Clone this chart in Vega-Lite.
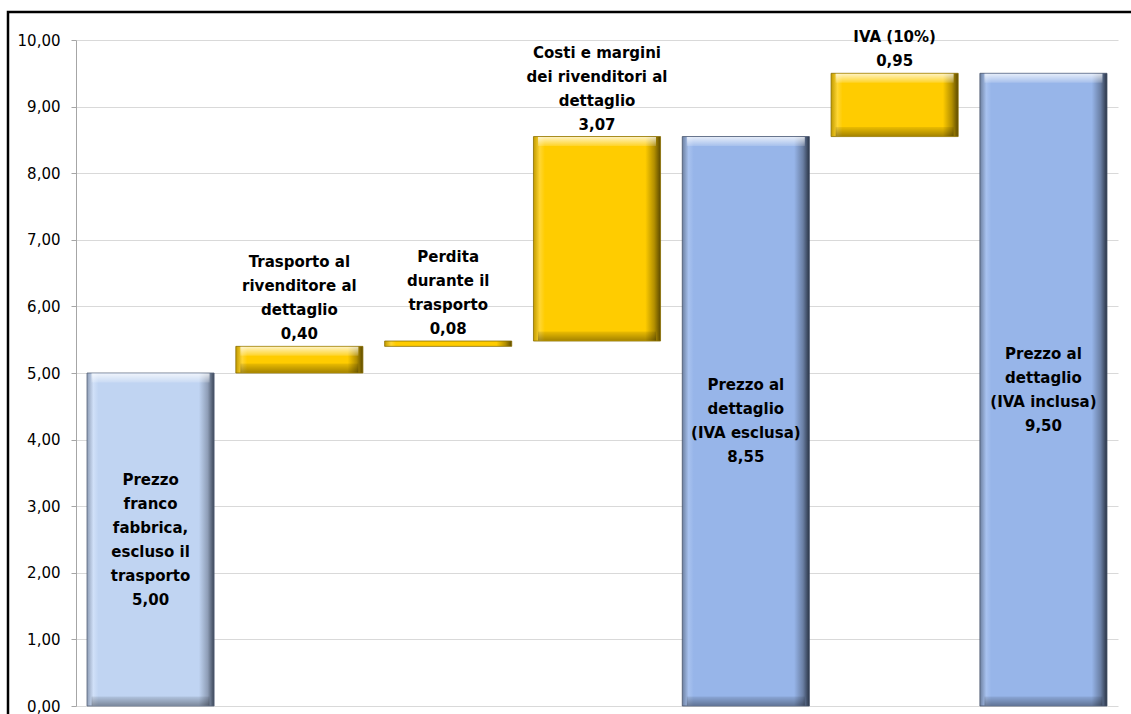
{
  "$schema": "https://vega.github.io/schema/vega-lite/v6.json",
  "width": 1140,
  "height": 712,
  "autosize": "none",
  "padding": {"left": 8, "top": 12, "right": 0, "bottom": 0},
  "background": "#ffffff",
  "config": {
    "view": {"stroke": "#000000", "strokeWidth": 2.5},
    "locale": {"number": {"decimal": ",", "thousands": ".", "grouping": [3], "currency": ["€", ""]}}
  },
  "data": {
    "values": [
      {"step": 1, "name": "Prezzo\nfranco\nfabbrica,\nescluso il\ntrasporto", "start": 0, "end": 5.00, "value": 5.00, "type": "first"},
      {"step": 2, "name": "Trasporto al\nrivenditore al\ndettaglio", "start": 5.00, "end": 5.40, "value": 0.40, "type": "delta"},
      {"step": 3, "name": "Perdita\ndurante il\ntrasporto", "start": 5.40, "end": 5.48, "value": 0.08, "type": "delta"},
      {"step": 4, "name": "Costi e margini\ndei rivenditori al\ndettaglio", "start": 5.48, "end": 8.55, "value": 3.07, "type": "delta"},
      {"step": 5, "name": "Prezzo al\ndettaglio\n(IVA esclusa)", "start": 0, "end": 8.55, "value": 8.55, "type": "total"},
      {"step": 6, "name": "IVA (10%)", "start": 8.55, "end": 9.50, "value": 0.95, "type": "delta"},
      {"step": 7, "name": "Prezzo al\ndettaglio\n(IVA inclusa)", "start": 0, "end": 9.50, "value": 9.50, "type": "total"}
    ]
  },
  "transform": [
    {"calculate": "split(datum.name + '\\n' + replace(format(datum.value, '.2f'), '.', ','), '\\n')", "as": "label"},
    {"calculate": "datum.type == 'delta' ? datum.end + (12 + (length(datum.label) - 1) * 24) / 66.6 : (datum.start + datum.end) / 2 + (length(datum.label) - 1) * 12 / 66.6", "as": "labelY"}
  ],
  "encoding": {
    "x": {
      "field": "step", "type": "ordinal", "sort": "ascending", "axis": null,
      "scale": {"range": [68, 1110], "paddingInner": 0.146, "paddingOuter": 0.074}
    }
  },
  "layer": [
    {
      "transform": [{"filter": "datum.type == 'first'"}],
      "mark": {
        "type": "bar", "stroke": "#55627a", "strokeWidth": 0.8,
        "color": {"gradient": "linear", "x1": 0, "x2": 1, "y1": 0, "y2": 0,
          "stops": [
            {"offset": 0, "color": "#8d9cb5"},
            {"offset": 0.05, "color": "#d0e0f8"},
            {"offset": 0.09, "color": "#c0d4f2"},
            {"offset": 0.88, "color": "#c0d4f2"},
            {"offset": 0.95, "color": "#8e9db6"},
            {"offset": 1, "color": "#3b4658"}
          ]}
      },
      "encoding": {
        "y": {"field": "start", "type": "quantitative",
          "scale": {"domain": [0, 10], "range": [694, 28], "nice": false, "zero": false},
          "axis": {
            "offset": -68, "values": [0, 1, 2, 3, 4, 5, 6, 7, 8, 9, 10], "format": ".2f", "title": null,
            "grid": true, "gridColor": "#d9d9d9", "gridWidth": 1,
            "domainColor": "#a6a6a6", "tickColor": "#a6a6a6", "tickSize": 5,
            "labelFont": "DejaVu Sans", "labelFontSize": 15, "labelColor": "#000000", "labelPadding": 11
          }},
        "y2": {"field": "end"}
      }
    },
    {
      "transform": [{"filter": "datum.type == 'total'"}],
      "mark": {
        "type": "bar", "stroke": "#46536b", "strokeWidth": 0.8,
        "color": {"gradient": "linear", "x1": 0, "x2": 1, "y1": 0, "y2": 0,
          "stops": [
            {"offset": 0, "color": "#6d80a0"},
            {"offset": 0.05, "color": "#a8c2ef"},
            {"offset": 0.09, "color": "#97b5e9"},
            {"offset": 0.88, "color": "#97b5e9"},
            {"offset": 0.95, "color": "#6a7fa4"},
            {"offset": 1, "color": "#2a3445"}
          ]}
      },
      "encoding": {
        "y": {"field": "start", "type": "quantitative"},
        "y2": {"field": "end"}
      }
    },
    {
      "transform": [{"filter": "datum.type == 'delta'"}],
      "mark": {
        "type": "bar", "stroke": "#8a6e00", "strokeWidth": 0.8,
        "color": {"gradient": "linear", "x1": 0, "x2": 1, "y1": 0, "y2": 0,
          "stops": [
            {"offset": 0, "color": "#c29b00"},
            {"offset": 0.05, "color": "#ffd633"},
            {"offset": 0.09, "color": "#ffcc00"},
            {"offset": 0.88, "color": "#ffcc00"},
            {"offset": 0.95, "color": "#b38f00"},
            {"offset": 1, "color": "#5c4a00"}
          ]}
      },
      "encoding": {
        "y": {"field": "start", "type": "quantitative"},
        "y2": {"field": "end"}
      }
    },
    {
      "transform": [{"filter": "datum.value >= 0.3"}],
      "mark": {
        "type": "tick", "size": 118, "thickness": 9, "yOffset": 5, "opacity": 1,
        "color": {"gradient": "linear", "x1": 0, "x2": 0, "y1": 0, "y2": 1,
          "stops": [
            {"offset": 0, "color": "rgba(255,255,255,0.75)"},
            {"offset": 1, "color": "rgba(255,255,255,0.15)"}
          ]}
      },
      "encoding": {
        "y": {"field": "end", "type": "quantitative"}
      }
    },
    {
      "transform": [{"filter": "datum.value >= 0.3"}],
      "mark": {
        "type": "tick", "size": 118, "thickness": 9, "yOffset": -5, "opacity": 1,
        "color": {"gradient": "linear", "x1": 0, "x2": 0, "y1": 0, "y2": 1,
          "stops": [
            {"offset": 0, "color": "rgba(0,0,0,0.08)"},
            {"offset": 1, "color": "rgba(0,0,0,0.35)"}
          ]}
      },
      "encoding": {
        "y": {"field": "start", "type": "quantitative"}
      }
    },
    {
      "mark": {"type": "text", "font": "DejaVu Sans", "fontSize": 15, "fontWeight": "bold", "color": "#000000",
        "lineHeight": 24, "baseline": "middle", "align": "center"},
      "encoding": {
        "y": {"field": "labelY", "type": "quantitative"},
        "text": {"field": "label", "type": "nominal"}
      }
    }
  ]
}
